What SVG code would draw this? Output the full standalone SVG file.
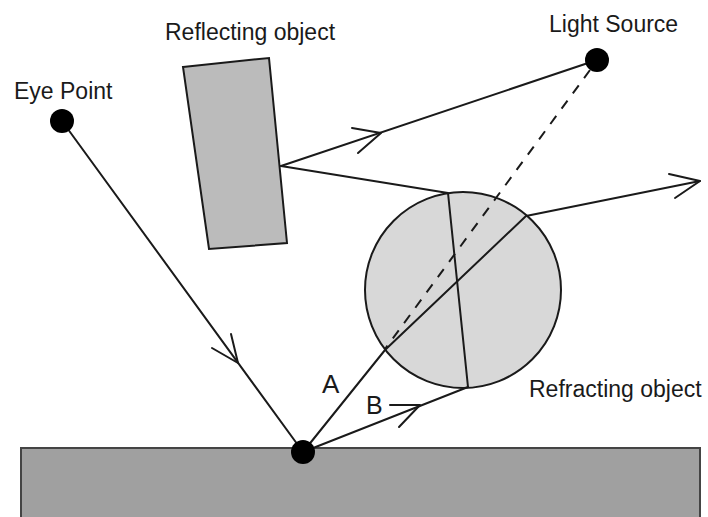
<svg xmlns="http://www.w3.org/2000/svg" width="708" height="517" viewBox="0 0 708 517">
<style>
text{font-family:"Liberation Sans",Arial,sans-serif;font-size:23px;fill:#1a1a1a}
.s{fill:none;stroke:#1a1a1a;stroke-width:2;stroke-linecap:round;stroke-linejoin:round}
.d{fill:#000}
</style>
<rect width="708" height="517" fill="#fff"/>
<g id="ground"><rect x="21" y="448" width="679" height="69" fill="#a0a0a0"/><path d="M21 517V448H700V517" fill="none" stroke="#444" stroke-width="2"/></g>
<g id="reflecting-object"><path d="M183 67L269 58L287 243L209 249Z" fill="#bbb" stroke="#1a1a1a" stroke-width="2"/><text x="165" y="40">Reflecting object</text></g>
<g id="refracting-object"><circle cx="463" cy="290" r="98" fill="#d8d8d8" stroke="#1a1a1a" stroke-width="2"/><text x="529" y="397">Refracting object</text></g>
<g id="connectors">
<path class="s" d="M62 121L303 452"/>
<path class="s" d="M212 348L238 363L231 334"/>
<path class="s" d="M303 452L385 350L526 216L700 181"/>
<path class="s" d="M669 174L700 181L675 198"/>
<path class="s" d="M303 452L468 387"/>
<path class="s" d="M399 427L420 405L390 405"/>
<path class="s" d="M281 166L597 60"/>
<path class="s" d="M352 128L381 133L358 153"/>
<path class="s" d="M281 166L448 193L468 387"/>
<path class="s" stroke-dasharray="10 9" style="stroke-linecap:butt" d="M590 70L385 349"/>
</g>
<g id="eye-point"><circle class="d" cx="62" cy="121" r="12"/><text x="14" y="99">Eye Point</text></g>
<g id="light-source"><circle class="d" cx="597" cy="60" r="12"/><text x="549" y="32">Light Source</text></g>
<g id="hit-point"><circle class="d" cx="303" cy="452" r="12"/></g>
<g id="label-a"><text x="322" y="393" style="font-size:26px">A</text></g>
<g id="label-b"><text x="366" y="414" style="font-size:25px">B</text></g>
</svg>
